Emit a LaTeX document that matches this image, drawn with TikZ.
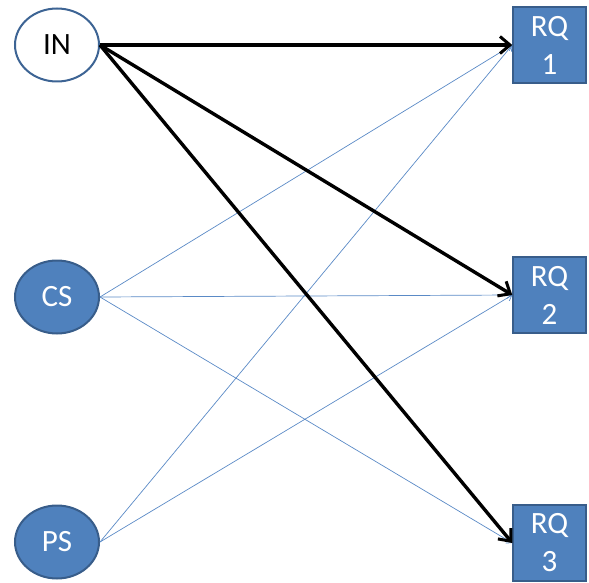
\documentclass[tikz,border=0pt]{standalone}
\usepackage{fontspec}
\setmainfont{Carlito}
\usetikzlibrary{arrows.meta,shapes.geometric}
\definecolor{officeblue}{HTML}{4F81BD}
\definecolor{officeedge}{HTML}{385D8A}
\definecolor{linkblue}{HTML}{5A8AC6}
\begin{document}
\begin{tikzpicture}[x=1pt,y=-1pt,
  factor/.style={ellipse,draw=officeedge,line width=2pt,fill=officeblue,
    text=white,minimum width=84pt,minimum height=73pt,inner sep=0pt,
    font=\fontsize{31}{34}\selectfont},
  rqbox/.style={rectangle,draw=officeedge,line width=1.4pt,fill=officeblue,
    text=white,minimum width=73pt,minimum height=76pt,inner sep=0pt,
    align=center,font=\fontsize{31}{38}\selectfont},
  mainlink/.style={line width=3.4pt,black,
    -{Straight Barb[length=10pt,width=17pt,line width=3pt]}},
  sidelink/.style={line width=0.7pt,linkblue,
    -{Straight Barb[length=5pt,width=7pt,line width=0.7pt]}}]
\useasboundingbox (0,0) rectangle (589,583);
% inputs on the left
\node[factor,fill=white,text=black,draw=officeedge!80!officeblue] (in) at (57,45) {IN};
\node[factor] (cs) at (57,297) {CS};
\node[factor] (ps) at (57,542) {PS};
% research questions on the right
\node[rqbox] (rq1) at (549.5,45) {RQ\\1};
\node[rqbox] (rq2) at (549.5,295) {RQ\\2};
\node[rqbox] (rq3) at (549.5,543) {RQ\\3};
% thin links
\draw[sidelink] (cs.east) -- (rq1.west);
\draw[sidelink] (cs.east) -- (rq2.west);
\draw[sidelink] (cs.east) -- (rq3.west);
\draw[sidelink] (ps.east) -- (rq1.west);
\draw[sidelink] (ps.east) -- (rq2.west);
% bold links from IN
\draw[mainlink] (in.east) -- (rq1.west);
\draw[mainlink] (in.east) -- (rq2.west);
\draw[mainlink] (in.east) -- (rq3.west);
\end{tikzpicture}
\end{document}
